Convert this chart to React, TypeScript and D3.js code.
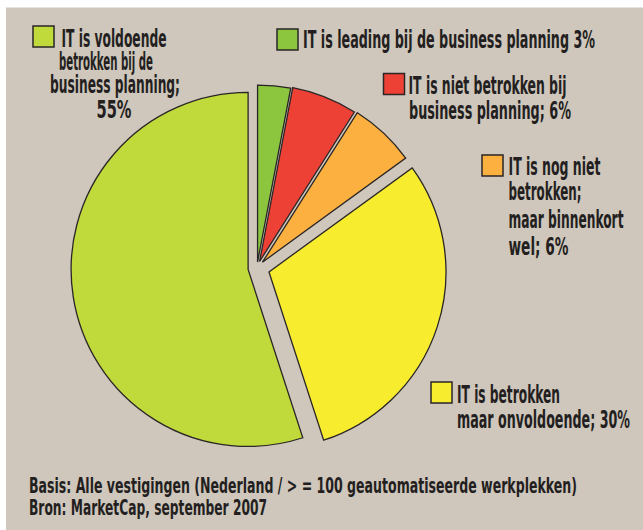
import React, { useEffect, useRef } from "react";
import * as d3 from "d3";

const W = 643;
const H = 530;

// slices, clockwise from 12 o'clock
const categories = [
  "IT is leading bij de business planning",
  "IT is niet betrokken bij business planning",
  "IT is nog niet betrokken; maar binnenkort wel",
  "IT is betrokken maar onvoldoende",
  "IT is voldoende betrokken bij de business planning",
];
const values = [3, 6, 6, 30, 55];
const colors = ["#8cc63f", "#ee4136", "#fbb040", "#f8ec2e", "#c0d93b"];

// legend text lines (per category)
const legendLines = [
  ["IT is leading bij de business planning 3%"],
  ["IT is niet betrokken bij", "business planning; 6%"],
  ["IT is nog niet", "betrokken;", "maar binnenkort", "wel; 6%"],
  ["IT is betrokken", "maar onvoldoende; 30%"],
  ["IT is voldoende", "betrokken bij de", "business planning;", "55%"],
];

const footLines = [
  "Basis: Alle vestigingen (Nederland / > = 100 geautomatiseerde werkplekken)",
  "Bron: MarketCap, september 2007",
];

// layout (styling only)
const explode = [6, 7, 8, 12.6, 9];
const legendLayout = [
  { box: [277, 29], lines: [[303, 48.3, 292]] },
  { box: [383.5, 73.5], lines: [[408.5, 94, 158], [409, 119.3, 162]] },
  { box: [482, 155], lines: [[508.5, 175, 92], [508.5, 200, 73], [508.5, 227.5, 115], [508.5, 254.5, 60]] },
  { box: [431, 382], lines: [[457, 402.7, 103], [457, 428.3, 173]] },
  { box: [33, 26], lines: [[61.5, 46.7, 105], [59, 70, 94], [50, 93, 130], [96.5, 118, 35]] },
];
const footLayout = [[29, 493, 548], [29, 515, 238]];

const FONT = "'Liberation Sans Narrow', 'DejaVu Sans Condensed', 'Roboto', 'Liberation Sans', sans-serif";
const INK = "#231f20";

export default function App() {
  const ref = useRef<SVGSVGElement>(null);

  useEffect(() => {
    const svg = d3.select(ref.current);
    svg.selectAll("*").remove();

    svg.append("rect").attr("x", 6).attr("y", 7.5).attr("width", W - 6).attr("height", H - 7.5).attr("fill", "#cfc6bc");

    const cx = 257;
    const cy = 268;
    const r = 177;

    const pie = d3.pie<number>().sort(null).value((d) => d);
    const arcs = pie(values);
    const arc = d3.arc<d3.PieArcDatum<number>>().innerRadius(0).outerRadius(r);

    const g = svg.append("g").attr("transform", `translate(${cx},${cy})`);
    g.selectAll("path")
      .data(arcs)
      .enter()
      .append("path")
      .attr("d", arc)
      .attr("transform", (d, i) => {
        const a = (d.startAngle + d.endAngle) / 2;
        return `translate(${Math.sin(a) * explode[i]},${-Math.cos(a) * explode[i]})`;
      })
      .attr("fill", (d, i) => colors[i])
      .attr("stroke", "#2a2626")
      .attr("stroke-width", 1.3)
      .attr("stroke-linejoin", "miter");

    // legend
    categories.forEach((c, i) => {
      const lay = legendLayout[i];
      svg.append("rect")
        .attr("x", lay.box[0])
        .attr("y", lay.box[1])
        .attr("width", 21)
        .attr("height", 21)
        .attr("fill", colors[i])
        .attr("stroke", "#2a2626")
        .attr("stroke-width", 1.5);
      legendLines[i].forEach((t, j) => {
        const [x, y, len] = lay.lines[j];
        svg.append("text")
          .attr("x", x)
          .attr("y", y)
          .attr("textLength", len)
          .attr("lengthAdjust", "spacingAndGlyphs")
          .style("font-family", FONT)
          .style("font-weight", "bold")
          .style("font-size", "25px")
          .attr("fill", INK)
          .text(t);
      });
    });

    footLines.forEach((t, j) => {
      const [x, y, len] = footLayout[j];
      svg.append("text")
        .attr("x", x)
        .attr("y", y)
        .attr("textLength", len)
        .attr("lengthAdjust", "spacingAndGlyphs")
        .style("font-family", FONT)
        .style("font-weight", "bold")
        .style("font-size", "21px")
        .attr("fill", INK)
        .text(t);
    });
  }, []);

  return (
    <svg
      ref={ref}
      width={W}
      height={H}
      style={{ position: "absolute", left: 0, top: 0, background: "#fff", display: "block" }}
    />
  );
}
